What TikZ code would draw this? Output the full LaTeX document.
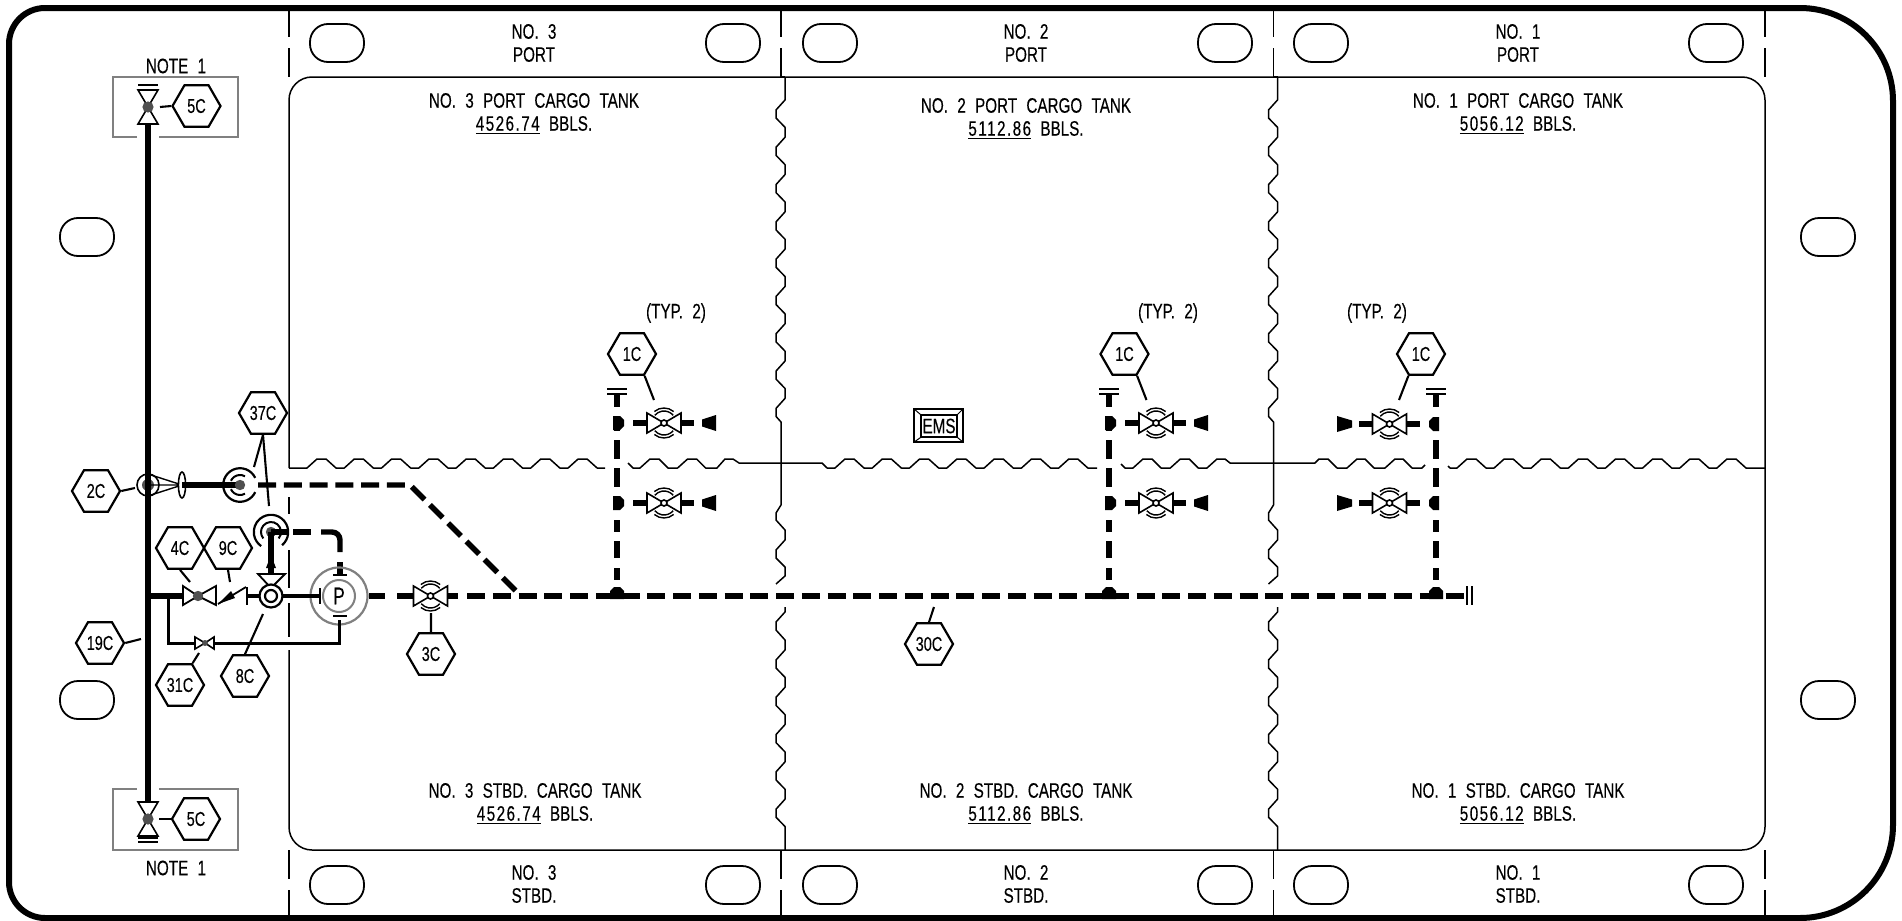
\documentclass[tikz,border=0pt]{standalone}
\usepackage{fontspec}
\setmainfont[FakeStretch=0.725,WordSpace=2.2,FakeBold=0.25]{Liberation Sans}
\usetikzlibrary{shapes.geometric}
\definecolor{gr}{HTML}{808080}
\definecolor{dot}{HTML}{505050}
\newcommand{\nm}[1]{\underline{\addfontfeature{LetterSpace=7}#1}}
\tikzset{
  thinln/.style={line width=0.75pt,black,line join=round},
  frameln/.style={line width=3pt,black},
  wire/.style={line width=1.05pt,black},
  greyln/.style={line width=0.8pt,gr},
  pipe/.style={line width=2.7pt,black},
  midpipe/.style={line width=1.5pt,black},
  hexa/.style={regular polygon,regular polygon sides=6,draw,line width=1.1pt,inner sep=0pt,minimum size=24pt,font=\fontsize{10}{10}\selectfont},
  lbl/.style={align=center,inner sep=0pt,font=\fontsize{10.5}{11.5}\selectfont},
  ov/.style={draw,line width=0.9pt,rounded corners=9pt,minimum width=27pt,minimum height=19pt,inner sep=0pt},
  svalve/.pic={
    \draw[line width=0.8pt,fill=white] (-17,-10)--(-17,10)--(0,0)--cycle;
    \draw[line width=0.8pt,fill=white] (17,-10)--(17,10)--(0,0)--cycle;
    \draw[line width=0.7pt] (50:7.5pt) arc[start angle=50,end angle=130,radius=7.5pt];
    \draw[line width=0.7pt] (40:6pt) arc[start angle=40,end angle=140,radius=6pt];
    \draw[line width=0.7pt] (-50:7.5pt) arc[start angle=-50,end angle=-130,radius=7.5pt];
    \draw[line width=0.7pt] (-40:6pt) arc[start angle=-40,end angle=-140,radius=6pt];
    \draw[line width=0.8pt,fill=white] (0,0) circle[radius=1.5pt];
  },
  bowtiev/.pic={
    \draw[line width=0.8pt,fill=white] (-10,-17)--(10,-17)--(0,0)--cycle;
    \draw[line width=0.8pt,fill=white] (-10,17)--(10,17)--(0,0)--cycle;
    \fill[dot] (0,0) circle[radius=2.8pt];
  },
}
\newcommand{\vpipe}[1]{\foreach \a/\b in {394/407,417/431,440/459,468/487,497/510,520/532,541/558,568/580,588/596}{\draw[pipe,line cap=butt] (#1,\a)--(#1,\b);}
  \draw[line width=0.8pt] (#1-10,389)--(#1+10,389) (#1-10,394)--(#1+10,394);
  \fill (#1-7,591)--(#1-3,587)--(#1+3,587)--(#1+7,591)--(#1+7,599)--(#1-7,599)--cycle;}
\begin{document}
\begin{tikzpicture}[x=0.5pt,y=-0.5pt]
\useasboundingbox (0,0) rectangle (1902,921);
\fill[white] (0,0) rectangle (1902,921);
% outer frame
\draw[frameln] (45,8)--(1800,8) arc[start angle=90,end angle=0,radius=46.5pt]
  --(1893,825) arc[start angle=0,end angle=-90,radius=46.5pt]
  --(45,918) arc[start angle=270,end angle=180,radius=18pt]
  --(9,44) arc[start angle=180,end angle=90,radius=18pt]--cycle;
% bands
\foreach \x in {289,781,1273.5,1765}{
  \draw[thinln] (\x,8)--(\x,37) (\x,48)--(\x,77);
  \draw[thinln] (\x,850)--(\x,879) (\x,890)--(\x,918);
}
% tank outline
\draw[thinln] (289,468)--(289,100) arc[start angle=180,end angle=90,radius=11.5pt]
  --(1742,77) arc[start angle=90,end angle=0,radius=11.5pt]
  --(1765,827) arc[start angle=0,end angle=-90,radius=11.5pt]
  --(312,850) arc[start angle=270,end angle=180,radius=11.5pt]--(289,650);
\draw[thinln] (289,497)--(289,514) (289,550)--(289,588) (289,603)--(289,637);
\draw[thinln] (781,77)--(785,77);
\draw[thinln] (1273.5,77)--(1278,77);
% horizontal tank divider
\draw[thinln] (289,468)\foreach \k in {0,...,7}{--({307+37.3*\k},468)--({317+37.3*\k},459)--({326+37.3*\k},459)--({336+37.3*\k},468)}--(605,468);
\draw[thinln] (628,463)--(633,468)\foreach \k in {0,1}{--({640+37.6*\k},468)--({650+37.6*\k},459)--({659+37.6*\k},459)--({668+37.6*\k},468)}--(717,468)--(725,459)--(733,459)--(739,463)--(822,463)--(827,468);
\draw[thinln] (827,468)\foreach \k in {0,...,6}{--({835+37.3*\k},468)--({845+37.3*\k},459)--({854+37.3*\k},459)--({864+37.3*\k},468)}--(1097,468);
\draw[thinln] (1121,464)--(1125,468)\foreach \k in {0,1}{--({1133+37.3*\k},468)--({1143+37.3*\k},459)--({1152+37.3*\k},459)--({1161+37.3*\k},468)}--(1207,468)--(1217,459)--(1225,459)--(1230,463)--(1315,463)--(1319,459)--(1328,459)--(1337,468);
\draw[thinln] (1337,468)\foreach \k in {0,1}{--({1347+38*\k},468)--({1357+38*\k},459)--({1365+38*\k},459)--({1374+38*\k},468)}--(1422,468)--(1425,465);
\draw[thinln] (1448,466)--(1450,468)\foreach \k in {0,...,7}{--({1457+37.14*\k},468)--({1467+37.14*\k},459)--({1476+37.14*\k},459)--({1486+37.14*\k},468)}--(1765,468);
% vertical tank dividers
\foreach \s in {0,492.5}{
\draw[thinln] (785+\s,77)\foreach \k in {0,...,8}{--(785+\s,{90+37.3*\k})--(785+\s,{100+37.3*\k})--(776+\s,{110+37.3*\k})--(776+\s,{118+37.3*\k})}--(781+\s,422)--(781+\s,505)--(776+\s,513)--(776+\s,520)--(785+\s,530)--(785+\s,540)--(776+\s,550)--(776+\s,558)--(785+\s,567)--(785+\s,576)--(776+\s,584);
\draw[thinln] (785+\s,607)--(785+\s,612)--(776+\s,622)--(776+\s,630)\foreach \k in {0,...,4}{--(785+\s,{640+37.3*\k})--(785+\s,{650+37.3*\k})--(776+\s,{660+37.3*\k})--(776+\s,{668+37.3*\k})}--(785+\s,{640+37.3*5})--(785+\s,850);
}
% ovals
\foreach \n/\x/\y in {a/337/43,b/733/43,c/830/43,d/1225/43,e/1321/43,f/1716/43,g/337/885,h/733/885,i/830/885,j/1225/885,k/1321/885,l/1716/885,m/87/237,n/87/700,o/1828/237,p/1828/700}{
  \node[ov] (ov\n) at (\x,\y) {};
}
% labels
\foreach \n/\x/\a/\b in {ta/534/NO.\ 3/PORT,tb/1026/NO.\ 2/PORT,tc/1518/NO.\ 1/PORT}{\node[lbl] (\n) at (\x,43) {\a\\\b};}
\foreach \n/\x/\a/\b in {ba/534/NO.\ 3/STBD.,bb/1026/NO.\ 2/STBD.,bc/1518/NO.\ 1/STBD.}{\node[lbl] (\n) at (\x,884) {\a\\\b};}
\node[lbl] (tk3p) at (534,114) {NO. 3 PORT CARGO TANK\\\nm{4526.74} BBLS.};
\node[lbl] (tk2p) at (1026,119) {NO. 2 PORT CARGO TANK\\\nm{5112.86} BBLS.};
\node[lbl] (tk1p) at (1518,114) {NO. 1 PORT CARGO TANK\\\nm{5056.12} BBLS.};
\node[lbl] (tk3s) at (535,804) {NO. 3 STBD. CARGO TANK\\\nm{4526.74} BBLS.};
\node[lbl] (tk2s) at (1026,804) {NO. 2 STBD. CARGO TANK\\\nm{5112.86} BBLS.};
\node[lbl] (tk1s) at (1518,804) {NO. 1 STBD. CARGO TANK\\\nm{5056.12} BBLS.};
\node[lbl] (note1) at (176,66) {NOTE 1};
\node[lbl] (note2) at (176,868) {NOTE 1};
\node[lbl] (typ1) at (676,313) {(TYP. 2)};
\node[lbl] (typ2) at (1168,313) {(TYP. 2)};
\node[lbl] (typ3) at (1377,313) {(TYP. 2)};
% note boxes
\draw[greyln] (137,137)--(113,137)--(113,77)--(238,77)--(238,137)--(159,137);
\draw[greyln] (137,789)--(113,789)--(113,850)--(238,850)--(238,789)--(159,789);
% EMS
\node[draw,line width=0.6pt,minimum width=24.5pt,minimum height=16.5pt,inner sep=0pt] (emso) at (938.5,425.5) {};
\node[draw,line width=0.6pt,minimum width=18pt,minimum height=11pt,inner sep=0pt,font=\fontsize{10.5}{10}\selectfont] (emsi) at (939,426) {EMS};
\draw[line width=0.5pt] (emso.north west)--(emsi.north west) (emso.north east)--(emsi.north east) (emso.south west)--(emsi.south west) (emso.south east)--(emsi.south east);
% main vertical pipe
\coordinate (vt) at (148,107); \coordinate (vb) at (148,819);
\fill[dot] (148,485) circle[radius=3pt];
\draw[line width=0.8pt] (148,485) circle[radius=5.5pt];
\draw[pipe] (vt)--(vb);
\pic at (vt) {bowtiev};
\pic at (vb) {bowtiev};
\draw[line width=0.8pt] (138,85)--(158,85) (138,90)--(158,90);
\draw[line width=0.8pt] (138,838)--(158,838) (138,842)--(158,842);
% hexes
\node[hexa] (h5a) at (196.5,106) {5C};
\node[hexa] (h5b) at (196,819) {5C};
\node[hexa] (h37) at (263,413) {37C};
\node[hexa] (h2) at (96,491) {2C};
\node[hexa] (h4) at (180,548) {4C};
\node[hexa] (h9) at (228,548) {9C};
\node[hexa] (h19) at (100,643) {19C};
\node[hexa] (h31) at (180,685) {31C};
\node[hexa] (h8) at (245,676) {8C};
\node[hexa] (h3) at (431,654) {3C};
\node[hexa] (h30) at (929,644) {30C};
\node[hexa] (h1a) at (632,354) {1C};
\node[hexa] (h1b) at (1124.5,354) {1C};
\node[hexa] (h1c) at (1421,354) {1C};
% wires
\coordinate (w5a) at (160,107); \coordinate (w5b) at (159,819);
\coordinate (w37a) at (254,467); \coordinate (w37b) at (269,506);
\coordinate (w2) at (135,488); \coordinate (w4) at (190,582); \coordinate (w9) at (230,582);
\coordinate (w19) at (141,639); \coordinate (w31) at (199,653); \coordinate (w8) at (263,614);
\coordinate (w3) at (431,613); \coordinate (w30) at (934,607);
\coordinate (w1a) at (654,400); \coordinate (w1b) at (1146.5,400); \coordinate (w1c) at (1399,400);
\draw[wire] (h5a.corner 3)--(w5a);
\draw[wire] (h5b.corner 3)--(w5b);
\draw[wire] (h37.south)--(w37a);
\draw[wire] (h37.south)--(w37b);
\draw[wire] (h2.corner 6)--(w2);
\draw[wire] (h4.south)--(w4);
\draw[wire] (h9.south)--(w9);
\draw[wire] (h19.corner 6)--(w19);
\draw[wire] (h31.corner 1)--(w31);
\draw[wire] (h8.north)--(w8);
\draw[wire] (h3.north)--(w3);
\draw[wire] (h30.north)--(w30);
\draw[wire] (h1a.corner 5)--(w1a);
\draw[wire] (h1b.corner 5)--(w1b);
\draw[wire] (h1c.corner 4)--(w1c);
% upper branch
\coordinate (r1) at (240,485);
\coordinate (r2) at (271,532);
\draw[line width=0.7pt] (148,474)--(182,485)--(148,496) (148,485)--(182,485);
\draw[line width=0.8pt,fill=white] (182,485) ellipse[x radius=1.8pt,y radius=6.5pt];
\draw[pipe] (182,485)--(r1);
\fill[dot] (r1) circle[radius=2.6pt];
\draw[line width=1.1pt] ([shift={(25:8.4pt)}]r1) arc[start angle=25,end angle=335,radius=8.4pt];
\draw[line width=1pt] ([shift={(155:5pt)}]r1) arc[start angle=155,end angle=60,radius=5pt];
\draw[line width=1pt] ([shift={(205:5pt)}]r1) arc[start angle=205,end angle=300,radius=5pt];
\draw[pipe,line cap=butt,dash pattern=on 9pt off 3.875pt] (258,485)--(410,485)--(521,596);
% pump-side branch
\fill[dot] (r2) circle[radius=2.6pt];
\draw[line width=1.1pt] ([shift={(-50:8.6pt)}]r2) arc[start angle=-50,end angle=235,radius=8.6pt];
\draw[line width=1pt] ([shift={(-40:5pt)}]r2) arc[start angle=-40,end angle=220,radius=5pt];
\draw[pipe] (r2)--(288,532);
\draw[pipe] (r2)--(271,573);
\fill (271,555)--(276,568)--(266,568)--cycle;
\draw[line width=0.9pt,fill=white] (258,574)--(285,574)--(271,588)--cycle;
\draw[pipe] (293,532)--(311,532);
\draw[pipe,rounded corners=4pt] (321,532)--(340,532)--(340,552);
\draw[pipe] (340,562)--(340,575);
% pump
\node[circle,draw=gr,line width=1.1pt,minimum size=28.5pt,inner sep=0pt] (pumpo) at (339,596) {};
\node[circle,draw=gr,line width=1pt,minimum size=16pt,inner sep=0pt,font=\fontsize{12}{13}\selectfont] (pumpi) at (339,596) {P};
\draw[line width=0.9pt] (333,575)--(347,575) (333,616)--(347,616) (320,588)--(320,604);
% small circle
\draw[midpipe,line width=2pt] (247,596)--(320,596);
\node[circle,draw,fill=white,line width=1.1pt,minimum size=11.5pt,inner sep=0pt] (sc) at (271,596) {};
\node[circle,draw,line width=1.1pt,minimum size=6pt,inner sep=0pt] (sc2) at (271,596) {};
% check valve
\draw[line width=0.9pt] (247,587)--(247,605) (216,586)--(216,605);
\draw[line width=0.9pt] (218,604)--(246,587);
\fill (218,604)--(231,591)--(235,598)--cycle;
% globe valve 4C
\draw[pipe] (148,596)--(183,596);
\draw[line width=0.9pt,fill=white] (183,586)--(183,605)--(198,596)--cycle;
\draw[line width=0.9pt,fill=white] (216,586)--(216,605)--(198,596)--cycle;
\fill[dot] (198,596) circle[radius=2.6pt];
% bypass
\coordinate (bya) at (168,596); \coordinate (byb) at (339,620);
\draw[midpipe] (bya)--(168,643)--(195,643);
\draw[midpipe] (214,643)--(339,643)--(byb);
\draw[line width=0.8pt,fill=white] (195,637)--(195,649)--(205,643)--cycle;
\draw[line width=0.8pt,fill=white] (214,637)--(214,649)--(205,643)--cycle;
\fill[dot] (205,643) circle[radius=1.5pt];
% main line
\draw[pipe] (369,596)--(385,596);
\draw[pipe] (397,596)--(414,596);
\draw[pipe] (447,596)--(458,596);
\draw[pipe,dash pattern=on 9pt off 3.875pt] (467,596)--(1467,596);
\draw[line width=0.8pt] (1467,586)--(1467,605) (1472,586)--(1472,605);
\pic at (430.5,596) {svalve};
% branch pipes
\vpipe{617}\vpipe{1109}\vpipe{1436}
% valve rows
\foreach \px in {617,1109}{
 \foreach \py in {423,503}{
  \fill (\px-4,\py-7)--(\px+3,\py-7)--(\px+7,\py-3)--(\px+7,\py+3)--(\px+3,\py+7)--(\px-4,\py+7)--cycle;
  \draw[pipe] (\px+16,\py)--(\px+30,\py);
  \draw[pipe] (\px+64,\py)--(\px+77,\py);
  \pic at (\px+47,\py) {svalve};
  \fill (\px+85,\py-3.5)--(\px+99,\py-8)--(\px+99,\py+8)--(\px+85,\py+3.5)--cycle;
 }
}
\foreach \py in {424,503}{
  \fill (1439,\py-7)--(1433,\py-7)--(1429,\py-3)--(1429,\py+3)--(1433,\py+7)--(1439,\py+7)--cycle;
  \draw[pipe] (1407,\py)--(1420,\py);
  \draw[pipe] (1359,\py)--(1373,\py);
  \pic at (1389.5,\py) {svalve};
  \fill (1352,\py-3.5)--(1337,\py-8)--(1337,\py+8)--(1352,\py+3.5)--cycle;
}
\end{tikzpicture}
\end{document}
